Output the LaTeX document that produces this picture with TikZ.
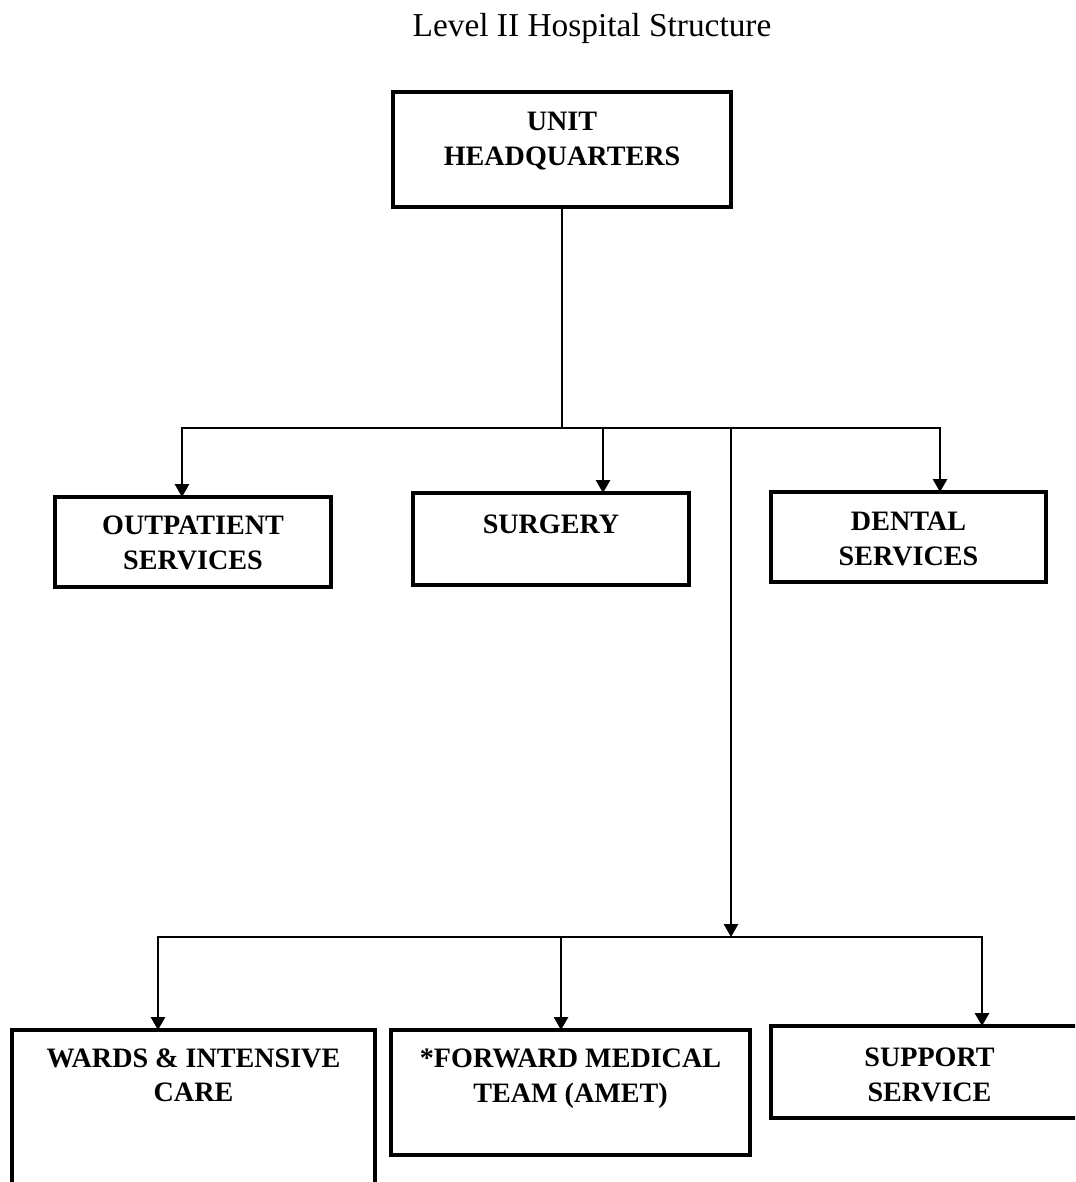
\documentclass[tikz,border=0pt]{standalone}
\usepackage{fontspec}
\setmainfont{Liberation Serif}
\usetikzlibrary{arrows.meta}
\usetikzlibrary{positioning}

\begin{document}
\begin{tikzpicture}[x=0.02cm,y=-0.02cm,
	>={Triangle[length=0.26cm,width=0.28cm]},
	dept/.style={draw,line width=1.9pt,inner sep=0pt,outer sep=0pt},
	deptname/.style={font=\fontsize{16}{19.5}\selectfont\bfseries,align=center,inner sep=0pt},
	link/.style={line width=1.6pt}]
	\clip (0,0) rectangle (1075,1182);
	\node[font=\fontsize{19}{22}\selectfont,anchor=base] (title) at (592,37) {Level II Hospital Structure};
	
	\node[dept,minimum width=6.76cm,minimum height=2.3cm] (hq) at (562,149.5) {};
	\node[deptname,below=0.4cm of hq.north] (hqname) {UNIT\\HEADQUARTERS};
	
	\node[dept,minimum width=5.52cm,minimum height=1.8cm] (out) at (193,542) {};
	\node[deptname,below=0.38cm of out.north] (outname) {OUTPATIENT\\SERVICES};
	\node[dept,minimum width=5.52cm,minimum height=1.84cm] (surg) at (551,539) {};
	\node[deptname,below=0.44cm of surg.north] (surgname) {SURGERY};
	\node[dept,minimum width=5.5cm,minimum height=1.8cm] (dent) at (908.5,537) {};
	\node[deptname,below=0.4cm of dent.north] (dentname) {DENTAL\\SERVICES};
	
	\node[dept,minimum width=7.26cm,minimum height=3.4cm] (wards) at (193.5,1115) {};
	\node[deptname,below=0.36cm of wards.north] (wardsname) {WARDS \& INTENSIVE\\CARE};
	\node[dept,minimum width=7.18cm,minimum height=2.5cm] (fwd) at (570.5,1092.5) {};
	\node[deptname,below=0.38cm of fwd.north] (fwdname) {*FORWARD MEDICAL\\TEAM (AMET)};
	\node[dept,minimum width=6.34cm,minimum height=1.84cm] (supp) at (929.5,1072) {};
	\node[deptname,below=0.44cm of supp.north] (suppname) {SUPPORT\\SERVICE};
	
	% upper branch
	\coordinate (busa) at (182,428);
	\coordinate (busb) at (940,428);
	\coordinate (surgtap) at (603,428);
	\coordinate (tap) at (731,428);
	\draw[link] (hq.south) -- (hq.south |- busa);
	\draw[link,->] (surgtap) -- (busa) -- (busa |- out.north);
	\draw[link,->] (surgtap) -- (busb) -- (busb |- dent.north);
	\draw[link,->] (surgtap) -- (surgtap |- surg.north);
	
	% lower branch
	\coordinate (busc) at (158,937);
	\coordinate (busd) at (982,937);
	\coordinate (fwdtap) at (561,937);
	\draw[link,->] (tap) -- (tap |- busc);
	\draw[link,->] (fwdtap) -- (busc) -- (busc |- wards.north);
	\draw[link,->] (fwdtap) -- (busd) -- (busd |- supp.north);
	\draw[link,->] (fwdtap) -- (fwdtap |- fwd.north);
	
\end{tikzpicture}
\end{document}
